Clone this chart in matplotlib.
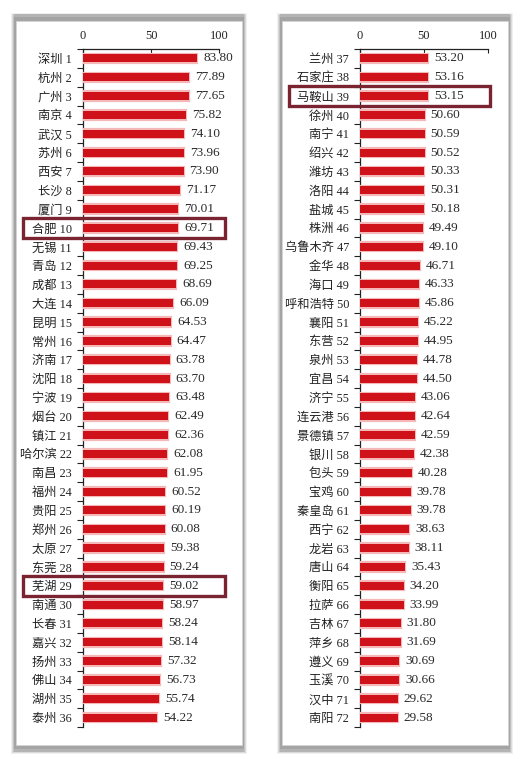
import numpy as np
import matplotlib
matplotlib.use("Agg")
import matplotlib.pyplot as plt
from matplotlib.patches import Rectangle
from matplotlib.transforms import blended_transform_factory

plt.rcParams['font.family'] = ['Liberation Serif', 'Noto Sans CJK SC', 'DejaVu Sans']

# Data
cities_left = ["深圳", "杭州", "广州", "南京", "武汉", "苏州", "西安", "长沙", "厦门", "合肥",
               "无锡", "青岛", "成都", "大连", "昆明", "常州", "济南", "沈阳", "宁波", "烟台",
               "镇江", "哈尔滨", "南昌", "福州", "贵阳", "郑州", "太原", "东莞", "芜湖", "南通",
               "长春", "嘉兴", "扬州", "佛山", "湖州", "泰州"]
scores_left = [83.80, 77.89, 77.65, 75.82, 74.10, 73.96, 73.90, 71.17, 70.01, 69.71,
               69.43, 69.25, 68.69, 66.09, 64.53, 64.47, 63.78, 63.70, 63.48, 62.49,
               62.36, 62.08, 61.95, 60.52, 60.19, 60.08, 59.38, 59.24, 59.02, 58.97,
               58.24, 58.14, 57.32, 56.73, 55.74, 54.22]
ranks_left = list(range(1, 37))

cities_right = ["兰州", "石家庄", "马鞍山", "徐州", "南宁", "绍兴", "潍坊", "洛阳", "盐城", "株洲",
                "乌鲁木齐", "金华", "海口", "呼和浩特", "襄阳", "东营", "泉州", "宜昌", "济宁", "连云港",
                "景德镇", "银川", "包头", "宝鸡", "秦皇岛", "西宁", "龙岩", "唐山", "衡阳", "拉萨",
                "吉林", "萍乡", "遵义", "玉溪", "汉中", "南阳"]
scores_right = [53.20, 53.16, 53.15, 50.60, 50.59, 50.52, 50.33, 50.31, 50.18, 49.49,
                49.10, 46.71, 46.33, 45.86, 45.22, 44.95, 44.78, 44.50, 43.06, 42.64,
                42.59, 42.38, 40.28, 39.78, 39.78, 38.63, 38.11, 35.43, 34.20, 33.99,
                31.80, 31.69, 30.69, 30.66, 29.62, 29.58]
ranks_right = list(range(37, 73))

highlight_left = ["合肥", "芜湖"]
highlight_right = ["马鞍山"]

W, H = 525, 759
fig = plt.figure(figsize=(W / 100, H / 100), dpi=100)
fig.patch.set_facecolor("white")


def px_rect(x0, y0, x1, y1, **kw):
    # rectangle in pixel coords (top-left origin)
    r = Rectangle((x0 / W, 1 - y1 / H), (x1 - x0) / W, (y1 - y0) / H,
                  transform=fig.transFigure, **kw)
    fig.add_artist(r)


# card backgrounds with soft shadow
for (cx0, cx1) in [(14, 244), (280, 510)]:
    for k, a in zip([3, 2, 1], [0.12, 0.2, 0.3]):
        px_rect(cx0 - k, 14 - k + 2, cx1 + k, 752 + k - 1, facecolor="#888888",
                edgecolor="none", alpha=a, zorder=0)
    px_rect(cx0, 14, cx1, 752, facecolor="#b4b4b4", edgecolor="none", zorder=0)
    px_rect(cx0, 17, cx1, 749, facecolor="#a4a4a4", edgecolor="none", zorder=0)
    px_rect(cx0 + 2, 21, cx1 - 2, 745, facecolor="white", edgecolor="#d4d4d4",
            linewidth=0.6, zorder=0)


def panel(left_px, right_px, cities, ranks, scores, hl, box_x):
    n = len(cities)
    ax = fig.add_axes([left_px / W, 1 - 727 / H, (right_px - left_px) / W, (727 - 49) / H])
    ax.set_facecolor("none")
    y = np.arange(n)
    ax.barh(y, scores, height=0.5, color="#d8141c", edgecolor="#f4b8b8",
            linewidth=1.6, zorder=3)
    ax.barh(y, scores, height=0.42, color="#cf1119", edgecolor="none", zorder=4)
    for yi, v in zip(y, scores):
        ax.text(v + 4.5, yi, f"{v:.2f}", va="center", ha="left", fontsize=9.5,
                color="#2a2a2a", zorder=5)
    ax.set_xlim(0, 100)
    ax.set_ylim(n - 0.5, -0.5)
    ax.xaxis.tick_top()
    ax.set_xticks([0, 50, 100])
    ax.tick_params(axis="x", direction="in", length=3, width=0.8, pad=5,
                   labelsize=9, colors="#222222")
    ax.set_yticks(y)
    ax.set_yticklabels([f"{c} {r}" for c, r in zip(cities, ranks)])
    ax.set_yticks(np.arange(n + 1) - 0.5, minor=True)
    ax.tick_params(axis="y", which="major", length=0, pad=8, labelsize=8.8,
                   colors="#222222")
    ax.tick_params(axis="y", which="minor", direction="out", length=4, width=0.8,
                   color="#222222")
    for s in ["right", "bottom"]:
        ax.spines[s].set_visible(False)
    for s in ["left", "top"]:
        ax.spines[s].set_linewidth(0.9)
        ax.spines[s].set_color("#222222")

    tr = blended_transform_factory(fig.transFigure, ax.transData)
    for c in hl:
        idx = cities.index(c)
        r = Rectangle((box_x[0] / W, idx - 0.52), (box_x[1] - box_x[0]) / W, 1.04,
                      transform=tr, fill=False, edgecolor="#7b2431", linewidth=2.4,
                      clip_on=False, zorder=6)
        fig.add_artist(r)
    return ax


panel(83, 219, cities_left, ranks_left, scores_left, highlight_left, (23, 225))
panel(360, 488, cities_right, ranks_right, scores_right, highlight_right, (289, 490))

fig.savefig("out.png", dpi=100, facecolor="white")
